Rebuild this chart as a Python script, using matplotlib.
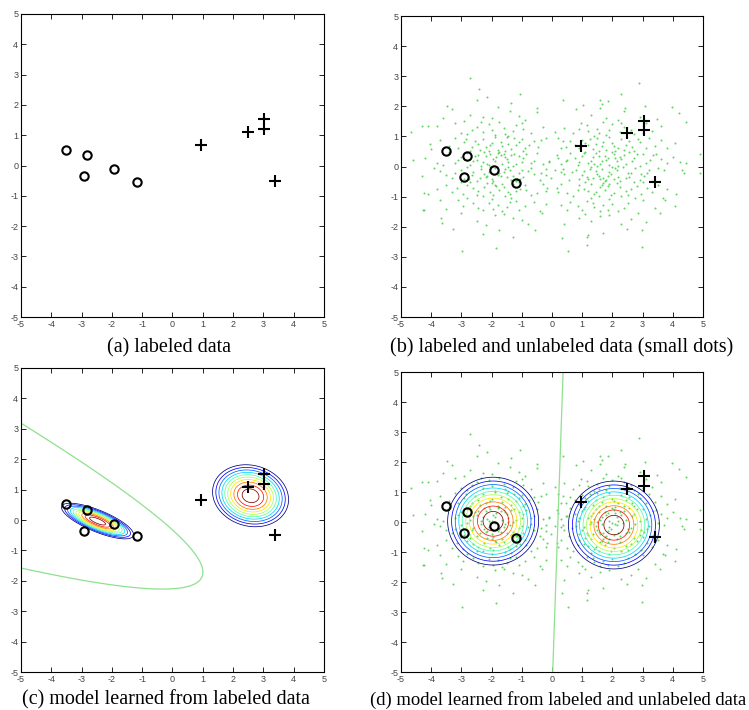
import numpy as np
import matplotlib
matplotlib.use('Agg')
import matplotlib.pyplot as plt

plt.rcParams['axes.unicode_minus'] = False

# labeled data
neg_x = [-3.50, -2.83, -2.93, -1.92, -1.18]
neg_y = [0.52, 0.34, -0.36, -0.13, -0.54]
pos_x = [0.95, 2.48, 3.03, 3.03, 3.40]
pos_y = [0.67, 1.10, 1.52, 1.20, -0.50]

# unlabeled data (small dots)
unl_left = [
    (-2.0,0.03),(-1.6,0.41),(-2.5,0.22),(-0.7,0.12),(-3.4,0.47),(-1.85,0.31),(-1.2,0.08),(-2.2,0.36),
    (-0.1,0.18),(-2.8,0.44),(-1.5,0.26),(-2.1,0.05),(-3.0,0.33),(-1.0,0.15),(-1.75,0.49),(-2.35,0.02),
    (0.2,0.29),(-3.8,0.11),(-1.35,0.39),(-2.6,0.2),(-1.65,0.07),(-0.5,0.45),(-1.95,0.24),(-3.2,0.13),
    (-1.1,0.35),(-2.25,0.48),(-1.3,0.01),(-4.2,0.27),(-0.85,0.4),(-1.9,0.17),(-2.7,0.06),(-1.55,0.32),
    (-2.05,0.43),(-0.3,0.09),(-2.9,0.25),(-1.45,0.14),(-2.45,0.37),(0.5,0.21),(-3.6,0.04),(-1.8,0.46),
    (-0.95,0.28),(-2.15,0.1),(-2.55,0.34),(-0.6,0.19),(-1.7,0.38),(-3.1,0.23),(-1.25,0.42),(-2.3,0.16),
    (-1.9,-0.04),(-2.4,-0.37),(-1.1,-0.21),(-3.0,-0.11),(-0.4,-0.46),(-2.15,-0.3),(-1.55,-0.07),(-2.75,-0.4),
    (-0.8,-0.16),(-3.5,-0.27),(-1.35,-0.44),(-2.05,-0.02),(-1.7,-0.33),(0.1,-0.13),(-2.6,-0.19),(-1.2,-0.48),
    (-3.9,-0.06),(-0.95,-0.35),(-2.25,-0.24),(-1.45,-0.01),(-2.9,-0.43),(-0.2,-0.09),(-1.8,-0.29),(-3.3,-0.38),
    (-1.0,-0.12),(-2.5,-0.47),(-1.6,-0.18),(-0.6,-0.26),(-2.0,-0.41),(-3.7,-0.14),(-1.3,-0.32),(-2.35,-0.08),
    (-0.05,-0.39),(-1.75,-0.22),(-2.8,-0.03),(-1.15,-0.45),(-4.3,-0.31),(-2.1,-0.17),(-0.7,-0.05),(-1.5,-0.36),
    (-3.2,-0.23),(-1.95,-0.49),(-2.65,-0.28),(-0.35,-0.2),(-1.4,-0.1),(-2.2,-0.34),(-1.05,-0.42),(0.4,-0.25),
    (-1.8,0.55),(-2.3,0.92),(-1.2,0.71),(-3.1,0.63),(-0.6,0.84),(-2.0,0.78),(-1.5,0.97),(-2.7,0.52),
    (-0.9,0.6),(-3.7,0.88),(-1.65,0.67),(-2.45,0.74),(-0.2,0.95),(-1.35,0.58),(-2.9,0.81),(-2.1,0.5),
    (-1.0,0.9),(-3.4,0.69),(-1.9,0.99),(-0.45,0.66),(-2.55,0.86),(-1.45,0.76),(-4.0,0.57),(-2.2,0.64),
    (-0.75,0.73),(-1.7,0.83),(-2.85,0.93),(0.3,0.62),(-1.1,0.8),(-2.4,0.56),(-3.2,0.96),(-1.55,0.51),
    (-0.35,0.87),(-2.05,0.7),(-1.25,0.94),(-2.65,0.65),(-0.95,0.53),
    (-2.0,-0.56),(-1.4,-0.9),(-2.6,-0.72),(-0.9,-0.61),(-3.3,-0.85),(-1.75,-0.77),(-2.3,-0.98),(-1.1,-0.53),
    (-2.8,-0.63),(-0.5,-0.88),(-1.6,-0.68),(-3.0,-0.51),(-1.95,-0.94),(-0.15,-0.7),(-2.45,-0.82),(-1.3,-0.59),
    (-3.8,-0.75),(-1.85,-0.66),(-0.7,-0.96),(-2.15,-0.54),(-1.45,-0.84),(-2.95,-0.91),(-1.05,-0.74),(-3.5,-0.6),
    (-2.25,-0.69),(-0.3,-0.58),(-1.55,-0.99),(-2.7,-0.52),(-1.2,-0.8),(-4.1,-0.92),(-1.9,-0.62),(-0.85,-0.78),
    (-2.5,-0.95),(0.2,-0.83),(-1.65,-0.57),(-2.05,-0.86),(-3.15,-0.71),
    (-1.9,1.05),(-2.5,1.33),(-1.3,1.18),(-3.2,1.46),(-0.7,1.1),(-2.1,1.4),(-1.6,1.27),(-2.8,1.08),
    (-1.0,1.44),(-3.8,1.36),(-2.3,1.15),(-0.3,1.3),(-1.45,1.02),(-2.65,1.22),(-1.75,1.48),(-0.95,1.25),
    (-3.0,1.12),(-2.0,1.2),(-1.2,1.38),(-4.3,1.35),(0.1,1.16),(-2.35,1.47),(-1.55,1.09),
    (-2.0,-1.07),(-1.5,-1.35),(-2.6,-1.2),(-1.1,-1.44),(-3.1,-1.12),(-1.8,-1.28),(-0.6,-1.18),(-2.3,-1.46),
    (-1.35,-1.03),(-3.5,-1.4),(-2.1,-1.22),(-0.9,-1.31),(-2.8,-1.05),(-1.65,-1.49),(-4.25,-1.44),(-1.2,-1.15),
    (-2.45,-1.38),(-0.2,-1.26),(-1.95,-1.42),(-2.95,-1.3),(-1.4,-1.19),(-3.7,-1.1),(-0.4,-1.47),
    (-2.0,1.6),(-1.4,1.85),(-2.7,1.72),(-0.9,1.55),(-3.3,1.9),(-1.8,1.98),(-2.3,1.65),(-0.5,1.8),
    (-1.1,1.68),(-2.9,1.52),(-3.6,1.62),
    (-1.9,-1.6),(-2.5,-1.82),(-1.3,-1.7),(-3.0,-1.55),(-0.8,-1.9),(-2.2,-1.95),(-1.6,-1.58),(-3.67,-1.71),
    (-3.65,-1.86),(-0.32,-1.55),(-1.0,-1.76),
    (-2.16,2.32),(-2.49,2.21),(-1.37,2.12),(-1.06,2.41),(-3.48,2.02),(-0.51,1.94),
    (-3.28,-2.07),(-1.74,-2.1),(-1.28,-2.35),(-0.56,-2.1),(-2.3,-2.25),
    (-2.73,2.93),(-2.42,2.57),(-2.98,-2.82),(-1.85,-2.71),
    (-4.66,1.14),(-4.09,1.35),(-4.61,0.22),(-4.05,0.75),(-4.25,-0.88),(-4.27,-1.44),
]
unl_right = [
    (1.9,0.04),(2.4,0.38),(1.3,0.2),(3.1,0.11),(0.6,0.46),(2.1,0.29),(1.6,0.07),(2.8,0.42),
    (0.9,0.15),(3.6,0.26),(1.45,0.45),(2.2,0.02),(1.75,0.34),(-0.1,0.14),(2.65,0.19),(1.1,0.49),
    (4.0,0.33),(1.0,0.36),(2.3,0.24),(1.5,0.01),(3.0,0.43),(0.3,0.09),(1.85,0.3),(3.35,0.38),
    (1.2,0.12),(2.55,0.47),(1.65,0.17),(0.75,0.27),(2.05,0.4),(3.8,0.13),(1.35,0.31),(2.45,0.08),
    (0.15,0.39),(1.8,0.22),(2.9,0.03),(1.05,0.44),(4.23,0.14),(2.15,0.18),(0.85,0.05),(1.55,0.35),
    (3.25,0.23),(2.0,0.48),(2.7,0.28),(0.45,0.2),(1.4,0.1),(2.25,0.32),(3.45,0.41),(4.45,0.11),
    (2.0,-0.03),(1.6,-0.4),(2.5,-0.22),(0.8,-0.12),(3.3,-0.47),(1.85,-0.31),(1.25,-0.08),(2.2,-0.36),
    (0.3,-0.18),(2.9,-0.44),(1.5,-0.26),(2.1,-0.05),(3.05,-0.33),(1.05,-0.15),(1.75,-0.49),(2.35,-0.02),
    (-0.2,-0.29),(3.7,-0.11),(1.35,-0.39),(2.6,-0.2),(1.65,-0.07),(0.55,-0.45),(1.95,-0.24),(3.2,-0.13),
    (1.15,-0.35),(2.25,-0.48),(1.3,-0.01),(4.32,-0.13),(0.9,-0.4),(1.9,-0.17),(2.75,-0.06),(1.55,-0.32),
    (2.05,-0.43),(0.35,-0.09),(2.95,-0.25),(1.45,-0.14),(2.45,-0.37),(4.36,-0.22),(3.5,-0.04),(1.8,-0.46),
    (1.0,-0.28),(2.15,-0.1),(2.55,-0.34),(0.65,-0.19),(1.7,-0.38),(3.15,-0.23),(1.2,-0.42),(4.89,-0.22),
    (1.8,0.54),(2.3,0.91),(1.2,0.7),(3.1,0.62),(0.6,0.85),(2.0,0.77),(1.5,0.96),(2.7,0.53),
    (0.9,0.61),(3.6,0.87),(1.65,0.68),(2.45,0.73),(0.2,0.94),(1.35,0.57),(2.9,0.8),(2.1,0.51),
    (1.0,0.89),(3.4,0.68),(1.9,0.98),(0.45,0.65),(2.55,0.85),(1.45,0.75),(4.06,0.77),(2.2,0.63),
    (0.75,0.72),(1.7,0.82),(2.85,0.92),(3.8,0.6),(1.1,0.79),(2.4,0.55),(3.2,0.95),(1.55,0.52),
    (0.35,0.86),(2.05,0.69),(1.25,0.93),(2.65,0.64),(4.91,0.41),
    (1.9,-0.57),(1.4,-0.91),(2.6,-0.73),(0.9,-0.6),(3.3,-0.84),(1.75,-0.78),(2.3,-0.97),(1.1,-0.52),
    (2.8,-0.64),(0.5,-0.87),(1.6,-0.67),(3.0,-0.5),(1.95,-0.95),(0.15,-0.71),(2.45,-0.81),(1.3,-0.58),
    (3.8,-0.76),(1.85,-0.65),(0.7,-0.97),(2.15,-0.55),(1.45,-0.83),(2.95,-0.92),(1.05,-0.73),(3.5,-0.61),
    (2.25,-0.68),(0.3,-0.59),(1.55,-0.98),(2.7,-0.53),(1.2,-0.81),(4.1,-0.9),(1.65,-0.63),(0.85,-0.77),
    (2.5,-0.94),(-0.2,-0.82),(1.7,-0.56),(2.05,-0.87),(3.15,-0.7),
    (1.8,1.06),(2.4,1.32),(1.2,1.19),(3.1,1.45),(0.7,1.1),(2.0,1.41),(1.5,1.26),(2.7,1.07),
    (0.95,1.43),(3.6,1.35),(2.25,1.14),(0.4,1.29),(1.4,1.03),(2.6,1.23),(1.7,1.47),(0.9,1.24),
    (3.0,1.13),(1.9,1.21),(1.15,1.37),(4.44,1.49),(3.3,1.17),(2.3,1.46),(1.55,1.1),
    (1.9,-1.08),(1.4,-1.34),(2.5,-1.21),(1.0,-1.45),(3.0,-1.11),(1.7,-1.29),(0.6,-1.17),(2.2,-1.47),
    (1.3,-1.04),(3.4,-1.39),(2.0,-1.23),(0.85,-1.32),(2.75,-1.06),(1.6,-1.48),(4.06,-1.31),(1.15,-1.16),
    (2.4,-1.37),(0.3,-1.27),(1.85,-1.43),(3.73,-1.1),(1.35,-1.2),(3.68,-1.05),(0.5,-1.46),
    (1.8,1.6),(2.4,1.85),(1.3,1.72),(3.46,1.57),(0.8,1.9),(2.9,1.66),(1.6,1.95),(2.2,1.55),
    (4.21,1.77),(3.96,1.97),(2.41,1.94),
    (1.9,-1.6),(1.3,-1.82),(2.85,-1.55),(3.57,-1.55),(0.9,-1.7),(2.3,-1.9),(1.6,-1.65),(2.6,-1.75),
    (0.4,-1.92),(3.1,-1.85),(1.1,-1.58),
    (2.27,2.41),(1.86,2.19),(1.64,2.08),(1.59,2.21),(1.04,2.04),(3.07,2.01),(0.35,2.21),
    (2.47,-2.08),(2.98,-2.1),(1.15,-2.35),(1.19,-2.28),(0.32,-2.36),(1.7,-2.2),
    (2.89,2.79),(2.98,-2.68),(1.15,-2.6),(0.54,-2.82),
]

# model learned from labeled and unlabeled data (panel d)
em_means = [(-1.95, 0.03), (2.05, -0.10)]
em_covs = [[[1.08, 0.0], [0.0, 1.02]], [[1.08, 0.0], [0.0, 1.02]]]
em_weights = [0.63, 0.37]
lab_weights = [0.5, 0.5]

level_frac = np.linspace(0.35, 0.95, 10)
captions = ['(a) labeled data', '(b) labeled and unlabeled data (small dots)',
            '(c) model learned from labeled data',
            '(d) model learned from labeled and unlabeled data']

gx, gy = np.meshgrid(np.linspace(-5, 5, 600), np.linspace(-5, 5, 600))


def gauss(mu, cov):
    cov = np.asarray(cov)
    inv = np.linalg.inv(cov)
    dx, dy = gx - mu[0], gy - mu[1]
    m2 = inv[0, 0]*dx*dx + 2*inv[0, 1]*dx*dy + inv[1, 1]*dy*dy
    logp = -0.5*m2 - 0.5*np.log(np.linalg.det(cov))
    return np.exp(-0.5*m2), logp


def draw_model(ax, means, covs, weights):
    cols = plt.cm.jet(np.linspace(0, 1, len(level_frac)))
    logs = []
    for mu, cov, w in zip(means, covs, weights):
        rel, logp = gauss(mu, cov)
        ax.contour(gx, gy, rel, levels=level_frac, colors=cols, linewidths=0.55, zorder=2)
        logs.append(logp + np.log(w))
    ax.contour(gx, gy, logs[0] - logs[1], levels=[0], colors='#8fe08f', linewidths=0.9, zorder=2)


def labeled(ax):
    ax.plot(neg_x, neg_y, 'o', mfc='none', mec='black', ms=6, mew=1.5, zorder=4)
    ax.plot(pos_x, pos_y, '+', color='black', ms=8, mew=1.5, zorder=4)


def dots(ax):
    pts = np.array(unl_left + unl_right)
    ax.plot(pts[:, 0], pts[:, 1], '.', color='#44d044', ms=2.9, mew=0, alpha=0.85, zorder=1)


fig = plt.figure(figsize=(7.49, 7.10), dpi=100)
rects = [[0.028, 0.5535, 0.4045, 0.4268], [0.5354, 0.5535, 0.4032, 0.4239],
         [0.028, 0.0535, 0.4045, 0.4282], [0.5354, 0.0535, 0.4032, 0.4225]]
axes = [fig.add_axes(r) for r in rects]
for ax in axes:
    ax.set_xlim(-5, 5); ax.set_ylim(-5, 5)
    ax.set_xticks(range(-5, 6)); ax.set_yticks(range(-5, 6))
    ax.tick_params(direction='in', top=True, right=True, length=3.5, width=0.6,
                   labelsize=6.5, labelcolor='#444444', pad=2)
    for lab in ax.get_xticklabels() + ax.get_yticklabels():
        lab.set_family('Liberation Sans')
    for s in ax.spines.values():
        s.set_linewidth(0.8)

labeled(axes[0])
dots(axes[1]); labeled(axes[1])

# panel (c): gaussians fitted to the labeled points only
neg = np.array([neg_x, neg_y]); pos = np.array([pos_x, pos_y])
draw_model(axes[2], [neg.mean(1), pos.mean(1)], [np.cov(neg, bias=True), np.cov(pos, bias=True)], lab_weights)
labeled(axes[2])

dots(axes[3])
draw_model(axes[3], em_means, em_covs, em_weights)
labeled(axes[3])

cap_pos = [(0.226, 0.51), (0.75, 0.51), (0.222, 0.014), (0.7455, 0.014)]
cap_size = [14.5, 14.5, 14.5, 13.4]
for (x, y), t, fs in zip(cap_pos, captions, cap_size):
    fig.text(x, y, t, ha='center', va='center', fontsize=fs, family='Liberation Serif')

fig.savefig('out.png', dpi=100)
